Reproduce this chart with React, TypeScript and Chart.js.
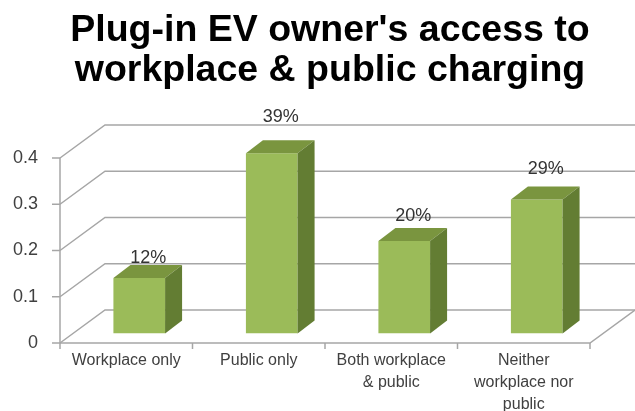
import { useEffect, useRef } from 'react';
import { Chart, registerables } from 'chart.js';

Chart.register(...registerables);

const titleLines = ["Plug-in EV owner's access to", 'workplace & public charging'];
const categories = [
  'Workplace only',
  'Public only',
  ['Both workplace', '& public'],
  ['Neither', 'workplace nor', 'public'],
];
const shares = [0.12, 0.39, 0.2, 0.29];
const shareLabels = ['12%', '39%', '20%', '29%'];
const yTicks = [0, 0.1, 0.2, 0.3, 0.4];

const FONT = '"Liberation Sans", Arial, sans-serif';
const DEPTH_X = 45;
const DEPTH_Y = -33;
const BAR_SHIFT_X = 13;
const BAR_SHIFT_Y = -9.5;
const BAR_DX = 17;
const BAR_DY = -13;
const FRONT_COLOR = '#9bbb59';
const TOP_COLOR = '#7a953f';
const SIDE_COLOR = '#637d33';
const GRID_COLOR = '#a6a6a6';

const threeD = {
  id: 'threeD',
  beforeDatasetsDraw(chart: any) {
    const { ctx, chartArea, scales } = chart;
    const { left, right } = chartArea;
    const y = scales.y;
    const y0 = y.getPixelForValue(0);
    const yTop = y.getPixelForValue(yTicks[yTicks.length - 1]);
    ctx.save();
    ctx.strokeStyle = GRID_COLOR;
    ctx.lineWidth = 1.5;
    yTicks.forEach((v) => {
      const py = y.getPixelForValue(v);
      ctx.beginPath();
      ctx.moveTo(left, py);
      ctx.lineTo(left + DEPTH_X, py + DEPTH_Y);
      ctx.lineTo(right + DEPTH_X, py + DEPTH_Y);
      ctx.stroke();
    });
    ctx.beginPath();
    ctx.moveTo(left, y0);
    ctx.lineTo(right, y0);
    ctx.lineTo(right + DEPTH_X, y0 + DEPTH_Y);
    ctx.stroke();
    ctx.beginPath();
    ctx.moveTo(left, yTop);
    ctx.lineTo(left, y0);
    ctx.stroke();
    yTicks.forEach((v) => {
      const py = y.getPixelForValue(v);
      ctx.beginPath();
      ctx.moveTo(left - 8, py);
      ctx.lineTo(left, py);
      ctx.stroke();
    });
    const n = categories.length;
    for (let i = 0; i <= n; i++) {
      const px = left + ((right - left) * i) / n;
      ctx.beginPath();
      ctx.moveTo(px, y0);
      ctx.lineTo(px, y0 + 6);
      ctx.stroke();
    }
    ctx.restore();
    ctx.save();
    ctx.translate(BAR_SHIFT_X, BAR_SHIFT_Y);
  },
  afterDatasetsDraw(chart: any) {
    const { ctx } = chart;
    const meta = chart.getDatasetMeta(0);
    meta.data.forEach((bar: any, i: number) => {
      const { x, y, base, width } = bar.getProps(['x', 'y', 'base', 'width'], true);
      const l = x - width / 2;
      const r = x + width / 2;
      ctx.fillStyle = TOP_COLOR;
      ctx.beginPath();
      ctx.moveTo(l, y);
      ctx.lineTo(l + BAR_DX, y + BAR_DY);
      ctx.lineTo(r + BAR_DX, y + BAR_DY);
      ctx.lineTo(r, y);
      ctx.closePath();
      ctx.fill();
      ctx.fillStyle = SIDE_COLOR;
      ctx.beginPath();
      ctx.moveTo(r, y);
      ctx.lineTo(r + BAR_DX, y + BAR_DY);
      ctx.lineTo(r + BAR_DX, base + BAR_DY);
      ctx.lineTo(r, base);
      ctx.closePath();
      ctx.fill();
      const h = base - y;
      ctx.fillStyle = '#333333';
      ctx.font = `18px ${FONT}`;
      ctx.textAlign = 'center';
      ctx.textBaseline = 'alphabetic';
      ctx.fillText(shareLabels[i], x + 9, y - (8 + 0.13 * h));
    });
    ctx.restore();
  },
  afterDraw(chart: any) {
    const { ctx } = chart;
    ctx.save();
    ctx.fillStyle = '#000000';
    ctx.font = `bold 37.5px ${FONT}`;
    ctx.textAlign = 'center';
    ctx.textBaseline = 'alphabetic';
    titleLines.forEach((line, i) => {
      ctx.fillText(line, 330, 41 + i * 40);
    });
    ctx.restore();
  },
};

export default function App() {
  const ref = useRef<HTMLCanvasElement | null>(null);
  useEffect(() => {
    document.body.style.margin = '0';
    if (!ref.current) return;
    const chart = new Chart(ref.current, {
      type: 'bar',
      data: {
        labels: categories as any,
        datasets: [
          {
            data: shares,
            backgroundColor: FRONT_COLOR,
            borderWidth: 0,
            categoryPercentage: 1,
            barPercentage: 0.39,
          },
        ],
      },
      options: {
        responsive: false,
        animation: false,
        layout: { padding: { left: 0, right: 45, top: 158, bottom: 0 } },
        plugins: {
          legend: { display: false },
          tooltip: { enabled: false },
          title: { display: false },
        },
        scales: {
          x: {
            grid: { display: false, drawTicks: false },
            border: { display: false },
            ticks: {
              color: '#404040',
              font: { family: FONT, size: 16, lineHeight: 1.4 },
              padding: 6,
              maxRotation: 0,
              autoSkip: false,
            },
            afterFit: (s: any) => {
              s.height = 68;
            },
          },
          y: {
            min: 0,
            max: 0.4,
            grid: { display: false, drawTicks: false },
            border: { display: false },
            ticks: {
              stepSize: 0.1,
              color: '#404040',
              font: { family: FONT, size: 18 },
              padding: 22,
            },
            afterFit: (s: any) => {
              s.width = 60;
            },
          },
        },
      } as any,
      plugins: [threeD],
    });
    return () => chart.destroy();
  }, []);
  return (
    <div style={{ width: 635, height: 411 }}>
      <canvas ref={ref} width={635} height={411} />
    </div>
  );
}
